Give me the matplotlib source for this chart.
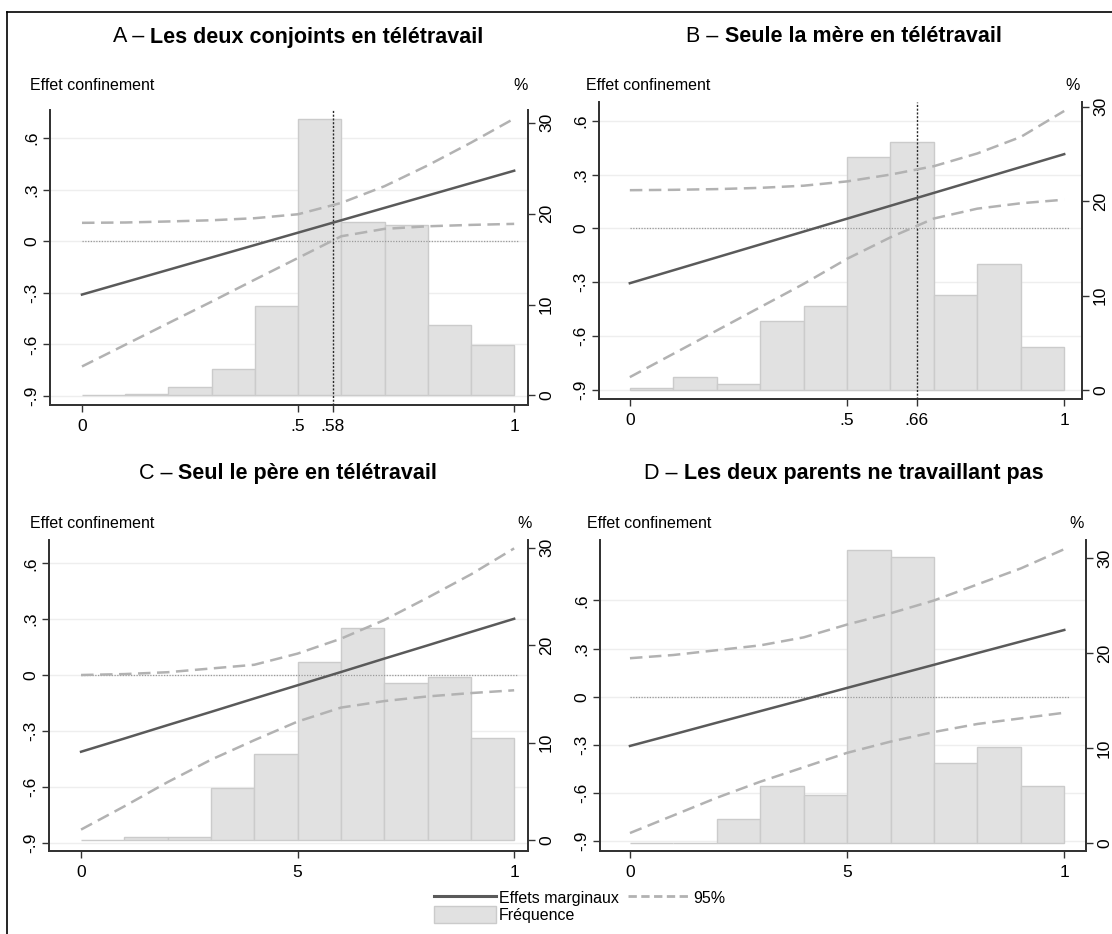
import matplotlib
matplotlib.use("Agg")
import matplotlib.pyplot as plt
from matplotlib.lines import Line2D
from matplotlib.patches import Patch

# ---------------------------------------------------------------- data
x_grid = [0.0, 0.1, 0.2, 0.3, 0.4, 0.5, 0.6, 0.7, 0.8, 0.9, 1.0]
bin_left = [0.0, 0.1, 0.2, 0.3, 0.4, 0.5, 0.6, 0.7, 0.8, 0.9]

titles_prefix = ["A – ", "B – ", "C – ", "D – "]
titles_bold = ["Les deux conjoints en télétravail",
               "Seule la mère en télétravail",
               "Seul le père en télétravail",
               "Les deux parents ne travaillant pas"]

effect_a = [-0.310, -0.238, -0.166, -0.094, -0.022, 0.050, 0.122, 0.194, 0.266, 0.338, 0.410]
upper_a = [0.107, 0.109, 0.115, 0.122, 0.134, 0.157, 0.223, 0.320, 0.441, 0.573, 0.713]
lower_a = [-0.728, -0.602, -0.476, -0.351, -0.223, -0.097, 0.029, 0.072, 0.087, 0.095, 0.101]
pct_a = [0.0, 0.2, 0.9, 2.9, 9.8, 30.4, 19.1, 18.7, 7.8, 5.6]

effect_b = [-0.306, -0.234, -0.162, -0.090, -0.018, 0.054, 0.126, 0.198, 0.270, 0.342, 0.414]
upper_b = [0.213, 0.215, 0.219, 0.226, 0.238, 0.262, 0.300, 0.347, 0.418, 0.510, 0.655]
lower_b = [-0.830, -0.700, -0.570, -0.440, -0.310, -0.170, -0.050, 0.055, 0.110, 0.140, 0.160]
pct_b = [0.18, 1.4, 0.6, 7.3, 8.9, 24.7, 26.3, 10.1, 13.3, 4.6]

effect_c = [-0.412, -0.341, -0.269, -0.198, -0.126, -0.055, 0.016, 0.088, 0.159, 0.231, 0.302]
upper_c = [0.000, 0.005, 0.015, 0.035, 0.055, 0.115, 0.195, 0.295, 0.415, 0.540, 0.680]
lower_c = [-0.830, -0.705, -0.575, -0.455, -0.350, -0.250, -0.175, -0.140, -0.115, -0.097, -0.082]
pct_c = [0.0, 0.35, 0.35, 5.3, 8.8, 18.3, 21.8, 16.1, 16.7, 10.5]

effect_d = [-0.307, -0.235, -0.162, -0.090, -0.018, 0.055, 0.127, 0.199, 0.272, 0.344, 0.416]
upper_d = [0.240, 0.260, 0.290, 0.320, 0.370, 0.450, 0.520, 0.600, 0.700, 0.800, 0.920]
lower_d = [-0.850, -0.740, -0.630, -0.530, -0.440, -0.350, -0.280, -0.220, -0.170, -0.135, -0.100]
pct_d = [0.0, 0.0, 2.6, 6.0, 5.1, 30.9, 30.1, 8.4, 10.1, 6.0]

mean_share = [0.58, 0.66, None, None]
xtick_vals = [[0, 0.5, 0.58, 1], [0, 0.5, 0.66, 1], [0, 0.5, 1], [0, 0.5, 1]]
xtick_text = [["0", ".5", ".58", "1"], ["0", ".5", ".66", "1"], ["0", "5", "1"], ["0", "5", "1"]]
ytick_vals = [0.6, 0.3, 0.0, -0.3, -0.6, -0.9]
ytick_text = [".6", ".3", "0", "-.3", "-.6", "-.9"]
pct_ticks = [0, 10, 20, 30]

legend_labels = ["Effets marginaux", "Fréquence", "95%"]

# ---------------------------------------------------------------- style
plt.rcParams["font.family"] = ["Liberation Sans", "DejaVu Sans"]

W, H = 1112, 934
LINE_COL = "#5a5a5a"
CI_COL = "#b2b2b2"
BAR_FACE = "#e1e1e1"
BAR_EDGE = "#cbcbcb"
SPINE_COL = "#333333"
GRID_COL = "#eeeeee"

FS_TITLE = 15.5
FS_LABEL = 11.5
FS_TICK = 12.5
FS_LEGEND = 11.5

fig = plt.figure(figsize=(W / 100, H / 100), dpi=100)
fig.patch.set_facecolor("white")


def px_rect(left, top, right, bottom):
    return [left / W, 1 - bottom / H, (right - left) / W, (bottom - top) / H]


panels = [
    dict(rect=(50, 110, 528, 405), xlim=(-0.074, 1.032), ylim=(-0.952, 0.763), plim=(-1.05, 31.4),
         eff=effect_a, up=upper_a, lo=lower_a, pct=pct_a),
    dict(rect=(599, 102, 1082, 399), xlim=(-0.071, 1.041), ylim=(-0.952, 0.705), plim=(-0.95, 30.5),
         eff=effect_b, up=upper_b, lo=lower_b, pct=pct_b),
    dict(rect=(49, 540, 528, 851), xlim=(-0.074, 1.032), ylim=(-0.945, 0.725), plim=(-1.13, 30.8),
         eff=effect_c, up=upper_c, lo=lower_c, pct=pct_c),
    dict(rect=(600, 540, 1086, 851), xlim=(-0.069, 1.050), ylim=(-0.962, 0.977), plim=(-0.81, 31.9),
         eff=effect_d, up=upper_d, lo=lower_d, pct=pct_d),
]

title_pos = [(298, 37), (844, 37), (288, 473), (844, 473)]
ylab_pos = [(30, 85), (586, 85), (30, 523), (587, 523)]
pct_pos = [(528, 85), (1080, 85), (532, 524), (1084, 524)]

renderer = fig.canvas.get_renderer()

for i, p in enumerate(panels):
    ax2 = fig.add_axes(px_rect(*p["rect"]))      # histogram, right axis
    ax = ax2.twinx()                              # marginal effects, left axis
    ax.set_zorder(ax2.get_zorder() + 1)
    ax.patch.set_visible(False)

    # effects on the left, percentages on the right
    ax.yaxis.tick_left()
    ax2.yaxis.tick_right()

    ax2.set_xlim(*p["xlim"])
    ax2.set_ylim(*p["plim"])
    ax.set_ylim(*p["ylim"])

    # faint horizontal grid at the effect ticks, behind the bars
    for v in ytick_vals:
        ax2.plot([0, 1], [v, v], transform=ax.get_yaxis_transform(), color=GRID_COL,
                 lw=1.0, zorder=0)

    ax2.bar(bin_left, p["pct"], width=0.1, align="edge", color=BAR_FACE,
            edgecolor=BAR_EDGE, linewidth=1.0, zorder=1)

    ax.hlines(0, 0, 1.01, colors="#9a9a9a", linestyles=(0, (1, 1.2)), lw=0.9, zorder=2)
    if mean_share[i] is not None:
        ax.axvline(mean_share[i], color="#2a2a2a", ls=(0, (1.5, 1.2)), lw=1.0, zorder=3)

    ax.plot(x_grid, p["up"], color=CI_COL, lw=1.8, ls=(0, (5, 2.6)), zorder=4)
    ax.plot(x_grid, p["lo"], color=CI_COL, lw=1.8, ls=(0, (5, 2.6)), zorder=4)
    ax.plot(x_grid, p["eff"], color=LINE_COL, lw=1.8, zorder=5)

    for a in (ax, ax2):
        a.spines["top"].set_visible(False)
        for s in ("left", "right", "bottom"):
            a.spines[s].set_color(SPINE_COL)
            a.spines[s].set_linewidth(1.3)

    ax.set_yticks(ytick_vals)
    ax.set_yticklabels(ytick_text)
    ax.tick_params(axis="y", which="both", direction="out", length=5, width=1.0,
                   color=SPINE_COL, pad=3, labelsize=FS_TICK, labelrotation=90)
    for lab in ax.get_yticklabels():
        lab.set_va("center")

    ax2.set_yticks(pct_ticks)
    ax2.set_yticklabels([str(v) for v in pct_ticks])
    ax2.tick_params(axis="y", which="both", direction="out", length=5, width=1.0,
                    color=SPINE_COL, pad=3, labelsize=FS_TICK, labelrotation=90)
    for lab in ax2.get_yticklabels():
        lab.set_va("center")

    ax2.set_xticks(xtick_vals[i])
    ax2.set_xticklabels(xtick_text[i])
    ax2.tick_params(axis="x", direction="out", length=5, width=1.0, color=SPINE_COL,
                    pad=5, labelsize=FS_TICK)
    ax.tick_params(axis="x", bottom=False, labelbottom=False)

    # panel title: letter in regular weight, description in bold
    t1 = fig.text(0, 0, titles_prefix[i], fontsize=FS_TITLE, fontweight="normal",
                  ha="left", va="center")
    t2 = fig.text(0, 0, titles_bold[i], fontsize=FS_TITLE, fontweight="bold",
                  ha="left", va="center")
    w1 = t1.get_window_extent(renderer).width
    w2 = t2.get_window_extent(renderer).width
    xc, yc = title_pos[i]
    x0 = xc - (w1 + w2) / 2
    t1.set_position((x0 / W, 1 - yc / H))
    t2.set_position(((x0 + w1) / W, 1 - yc / H))

    fig.text(ylab_pos[i][0] / W, 1 - ylab_pos[i][1] / H, "Effet confinement",
             fontsize=FS_LABEL, ha="left", va="center")
    fig.text(pct_pos[i][0] / W, 1 - pct_pos[i][1] / H, "%",
             fontsize=FS_LABEL, ha="right", va="center")

# frame around the combined graph
fig.add_artist(Line2D([7 / W, 1.0], [1 - 11.7 / H, 1 - 11.7 / H], color="black", lw=1.2))
fig.add_artist(Line2D([7 / W, 7 / W], [0.0, 1 - 11.7 / H], color="black", lw=1.2))

# shared legend
handles = [Line2D([], [], color=LINE_COL, lw=2.2),
           Patch(facecolor=BAR_FACE, edgecolor=BAR_EDGE, linewidth=1.0),
           Line2D([], [], color=CI_COL, lw=2.0, ls=(0, (3, 1.6)))]
fig.legend(handles, legend_labels, ncol=2, loc="upper left",
           bbox_to_anchor=(434 / W, 1 - 889 / H), frameon=False,
           fontsize=FS_LEGEND, handlelength=3.9, handleheight=1.25,
           handletextpad=0.15, columnspacing=0.6, labelspacing=0.0,
           borderpad=0, borderaxespad=0)

fig.savefig("out.png", dpi=100)
